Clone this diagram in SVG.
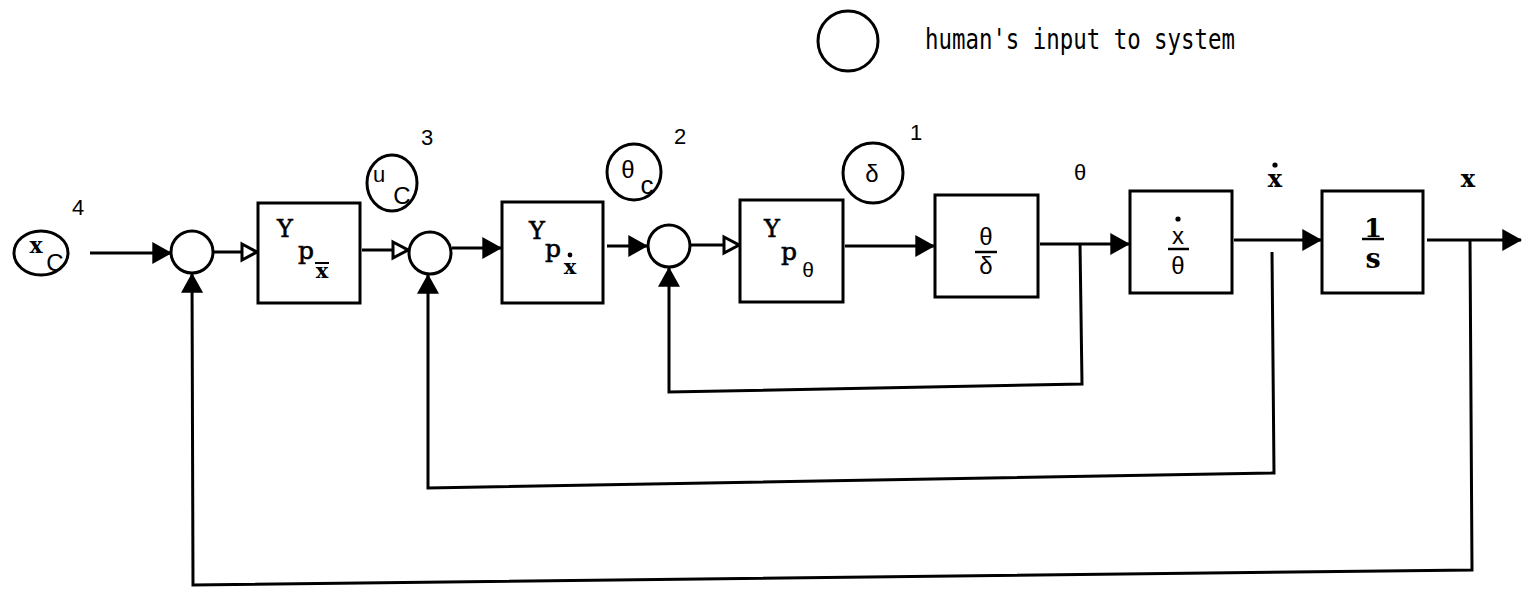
<svg xmlns="http://www.w3.org/2000/svg" width="1522" height="590" viewBox="0 0 1522 590">
<style>
.ln{fill:none;stroke:#000;stroke-width:3;stroke-linejoin:miter}
.bx{fill:#fff;stroke:#000;stroke-width:3}
.cr{fill:#fff;stroke:#000;stroke-width:3}
.tw{font-family:"DejaVu Serif","Liberation Serif",serif;fill:#000;stroke:#000;stroke-width:0.6}
.twb{font-family:"DejaVu Serif","Liberation Serif",serif;font-weight:bold;fill:#000}
.sans{font-family:"Liberation Sans","DejaVu Sans",sans-serif;fill:#000}
.num{font-family:"Liberation Sans","DejaVu Sans",sans-serif;font-size:22px;fill:#000}
.leg{font-family:"DejaVu Sans Mono","Liberation Mono",monospace;font-size:28px;fill:#000}
</style>
<defs>
<marker id="af" markerUnits="userSpaceOnUse" markerWidth="20" markerHeight="22" viewBox="0 0 18 20" refX="17" refY="10" orient="auto">
<path d="M0,0 L18,10 L0,20 Z" fill="#000"/>
</marker>
<marker id="ah" markerUnits="userSpaceOnUse" markerWidth="20" markerHeight="22" viewBox="-2 -2 20 22" refX="16" refY="9" orient="auto">
<path d="M1,1 L16,9 L1,17 Z" fill="#fff" stroke="#000" stroke-width="3"/>
</marker>
</defs>

<g id="legend">
<circle class="cr" cx="848" cy="41" r="30"/>
<text class="leg" x="925" y="49" textLength="310" lengthAdjust="spacingAndGlyphs">human's input to system</text>
</g>

<g id="connectors">
<line class="ln" x1="90" y1="253" x2="171" y2="253" marker-end="url(#af)"/>
<line class="ln" x1="213" y1="252" x2="257" y2="252" marker-end="url(#ah)"/>
<line class="ln" x1="362" y1="250" x2="408" y2="250" marker-end="url(#ah)"/>
<line class="ln" x1="452" y1="248" x2="501" y2="248" marker-end="url(#af)"/>
<line class="ln" x1="607" y1="246" x2="647" y2="246" marker-end="url(#af)"/>
<line class="ln" x1="690" y1="245" x2="739" y2="245" marker-end="url(#ah)"/>
<line class="ln" x1="845" y1="246" x2="934" y2="246" marker-end="url(#af)"/>
<line class="ln" x1="1040" y1="244" x2="1129" y2="244" marker-end="url(#af)"/>
<line class="ln" x1="1234" y1="240" x2="1321" y2="240" marker-end="url(#af)"/>
<line class="ln" x1="1427" y1="240" x2="1521" y2="240" marker-end="url(#af)"/>
<polyline class="ln" points="1080,244 1082,384 669,392 669,268" marker-end="url(#af)"/>
<polyline class="ln" points="1272,252 1274,473 428,488 428,275" marker-end="url(#af)"/>
<polyline class="ln" points="1470,240 1472,570 193,585 192,274" marker-end="url(#af)"/>
</g>

<g id="xc">
<ellipse class="cr" cx="41" cy="253" rx="27" ry="22"/>
<text class="twb" x="36" y="253" font-size="22" text-anchor="middle">x</text>
<text class="sans" x="55" y="271" font-size="24" text-anchor="middle">C</text>
<text class="num" x="78" y="215" text-anchor="middle">4</text>
</g>

<g id="sum1"><circle class="cr" cx="192" cy="252" r="21"/></g>

<g id="box1">
<rect class="bx" x="258" y="203" width="102" height="100"/>
<text class="tw" x="285" y="237" font-size="24" text-anchor="middle">Y</text>
<text class="tw" x="306" y="259" font-size="25" text-anchor="middle">p</text>
<text class="twb" x="322" y="278" font-size="21" text-anchor="middle">x</text>
<line x1="315" y1="263" x2="329" y2="263" stroke="#000" stroke-width="2"/>
</g>

<g id="uc">
<ellipse class="cr" cx="392" cy="183" rx="25" ry="28"/>
<text class="sans" x="379" y="182" font-size="22" text-anchor="middle">u</text>
<text class="sans" x="402" y="204" font-size="24" text-anchor="middle">C</text>
<text class="num" x="427" y="145" text-anchor="middle">3</text>
</g>

<g id="sum2"><circle class="cr" cx="430" cy="253" r="21"/></g>

<g id="box2">
<rect class="bx" x="502" y="202" width="101" height="101"/>
<text class="tw" x="537" y="239" font-size="24" text-anchor="middle">Y</text>
<text class="tw" x="553" y="257" font-size="25" text-anchor="middle">p</text>
<text class="twb" x="570" y="274" font-size="21" text-anchor="middle">x</text>
<circle cx="570" cy="255" r="2.4" fill="#000"/>
</g>

<g id="thetac">
<ellipse class="cr" cx="634" cy="172" rx="27" ry="28"/>
<text class="sans" x="628" y="178" font-size="24" text-anchor="middle">θ</text>
<text class="sans" x="647" y="194" font-size="26" text-anchor="middle">c</text>
<text class="num" x="680" y="144" text-anchor="middle">2</text>
</g>

<g id="sum3"><circle class="cr" cx="669" cy="246" r="21"/></g>

<g id="box3">
<rect class="bx" x="740" y="200" width="103" height="102"/>
<text class="tw" x="772" y="237" font-size="24" text-anchor="middle">Y</text>
<text class="tw" x="789" y="260" font-size="25" text-anchor="middle">p</text>
<text class="sans" x="808" y="277" font-size="21" text-anchor="middle">θ</text>
</g>

<g id="delta">
<circle class="cr" cx="873" cy="173" r="30"/>
<text class="sans" x="872" y="182" font-size="24" text-anchor="middle">δ</text>
<text class="num" x="916" y="140" text-anchor="middle">1</text>
</g>

<g id="box4">
<rect class="bx" x="935" y="195" width="103" height="102"/>
<text class="sans" x="986" y="245" font-size="24" text-anchor="middle">θ</text>
<line x1="975" y1="252" x2="997" y2="252" stroke="#000" stroke-width="2.5"/>
<text class="sans" x="986" y="274" font-size="24" text-anchor="middle">δ</text>
</g>

<g id="theta-label">
<text class="sans" x="1080" y="180" font-size="22" text-anchor="middle">θ</text>
</g>

<g id="box5">
<rect class="bx" x="1130" y="191" width="102" height="102"/>
<circle cx="1178" cy="219" r="2.6" fill="#000"/>
<text class="sans" x="1178" y="244" font-size="24" text-anchor="middle">x</text>
<line x1="1168" y1="249" x2="1189" y2="249" stroke="#000" stroke-width="2.5"/>
<text class="sans" x="1178" y="274" font-size="24" text-anchor="middle">θ</text>
</g>

<g id="xdot-label">
<circle cx="1275" cy="165" r="2.6" fill="#000"/>
<text class="twb" x="1275" y="187" font-size="24" text-anchor="middle">x</text>
</g>

<g id="box6">
<rect class="bx" x="1322" y="191" width="101" height="102"/>
<text class="twb" x="1373" y="237" font-size="26" text-anchor="middle">1</text>
<line x1="1362" y1="239" x2="1384" y2="239" stroke="#000" stroke-width="2.5"/>
<text class="twb" x="1373" y="268" font-size="27" text-anchor="middle">s</text>
</g>

<g id="x-label">
<text class="twb" x="1468" y="187" font-size="24" text-anchor="middle">x</text>
</g>
</svg>
